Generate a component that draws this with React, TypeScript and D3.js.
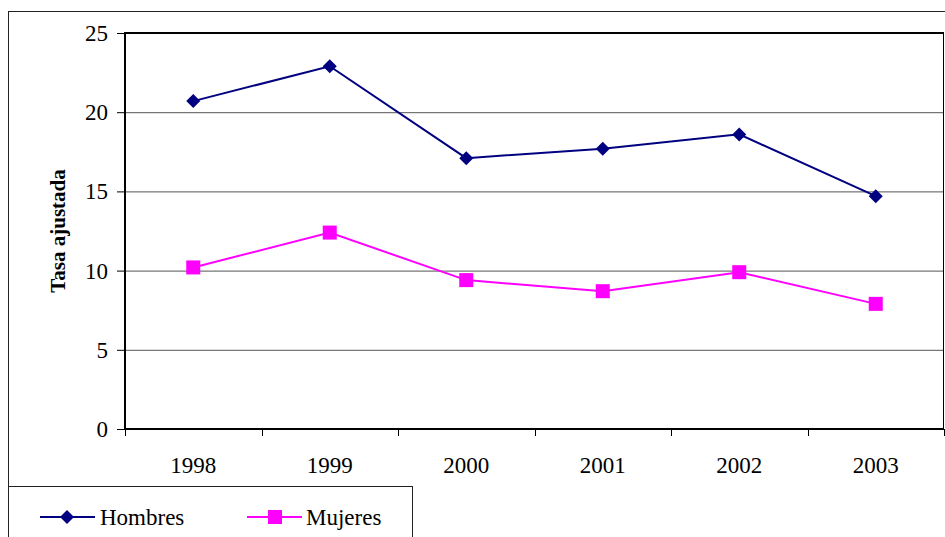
import React from 'react';
import * as d3 from 'd3';

const years = ['1998', '1999', '2000', '2001', '2002', '2003'];
const hombres = [20.7, 22.9, 17.1, 17.7, 18.6, 14.7];
const mujeres = [10.2, 12.4, 9.4, 8.7, 9.9, 7.9];
const yTicks = [0, 5, 10, 15, 20, 25];

const W = 945;
const H = 537;
const plot = { left: 125, right: 944, top: 33, bottom: 429 };
const txt = { fontFamily: 'Liberation Serif', fontSize: '23px' };

const App = () => {
    const x = d3.scaleBand().domain(years).range([plot.left, plot.right]);
    const y = d3.scaleLinear().domain([0, 25]).range([plot.bottom, plot.top]);
    const cx = (d: string) => x(d)! + x.bandwidth() / 2;

    const line = d3.line<number>()
        .x((d, i) => cx(years[i]))
        .y(d => y(d));

    const diamond = (px: number, py: number, r = 7) =>
        `M${px},${py - r}L${px + r},${py}L${px},${py + r}L${px - r},${py}Z`;

    const edges = years.map(d => x(d)!).concat([plot.right]);

    return (
        <svg width={W} height={H} style={{ position: 'absolute', left: 0, top: 0, background: '#fff' }}>
            {/* outer chart border */}
            <rect x={8.5} y={11.5} width={W} height={H} fill="none" stroke="#222" strokeWidth={1} />

            {/* gridlines */}
            {yTicks.filter(t => t > 0 && t < 25).map(t => (
                <line key={t} x1={plot.left} x2={plot.right} y1={y(t) + 0.5} y2={y(t) + 0.5} stroke="#555" strokeWidth={1} />
            ))}

            {/* plot area frame */}
            <line x1={plot.left} x2={plot.right} y1={plot.top} y2={plot.top} stroke="#000" strokeWidth={2} />
            <line x1={plot.right - 0.5} x2={plot.right - 0.5} y1={plot.top} y2={plot.bottom} stroke="#000" strokeWidth={1} />
            <line x1={plot.left} x2={plot.left} y1={plot.top - 1} y2={plot.bottom + 1} stroke="#000" strokeWidth={2} />
            <line x1={plot.left} x2={plot.right} y1={plot.bottom} y2={plot.bottom} stroke="#000" strokeWidth={2} />

            {/* y ticks */}
            {yTicks.map(t => (
                <g key={t}>
                    <line x1={plot.left - 8} x2={plot.left} y1={y(t) + 0.5} y2={y(t) + 0.5} stroke="#000" />
                    <text x={108} y={y(t)} dy="0.35em" textAnchor="end" style={txt}>{t}</text>
                </g>
            ))}

            {/* x ticks */}
            {edges.map((e, i) => (
                <line key={i} x1={Math.round(e) + 0.5} x2={Math.round(e) + 0.5} y1={plot.bottom} y2={plot.bottom + 7} stroke="#000" />
            ))}
            {years.map(d => (
                <text key={d} x={cx(d)} y={465} dy="0.35em" textAnchor="middle" style={txt}>{d}</text>
            ))}

            <text transform={`translate(65,${(plot.top + plot.bottom) / 2}) rotate(-90)`} textAnchor="middle"
                style={{ fontFamily: 'Liberation Serif', fontSize: '21px', fontWeight: 'bold' }}>Tasa ajustada</text>

            {/* series */}
            <path d={line(hombres)!} fill="none" stroke="#000080" strokeWidth={2} />
            {hombres.map((v, i) => (
                <path key={i} d={diamond(cx(years[i]), y(v))} fill="#000080" />
            ))}
            <path d={line(mujeres)!} fill="none" stroke="#FF00FF" strokeWidth={2} />
            {mujeres.map((v, i) => (
                <rect key={i} x={cx(years[i]) - 7} y={y(v) - 7} width={14} height={14} fill="#FF00FF" />
            ))}

            {/* legend */}
            <rect x={8.5} y={486.5} width={404} height={60} fill="#fff" stroke="#222" />
            <line x1={40} x2={95} y1={517} y2={517} stroke="#000080" strokeWidth={2} />
            <path d={diamond(67, 517)} fill="#000080" />
            <text x={100} y={517} dy="0.35em" style={txt}>Hombres</text>
            <line x1={247} x2={302} y1={517} y2={517} stroke="#FF00FF" strokeWidth={2} />
            <rect x={268} y={510} width={14} height={14} fill="#FF00FF" />
            <text x={306} y={517} dy="0.35em" style={txt}>Mujeres</text>
        </svg>
    );
};

export default App;
